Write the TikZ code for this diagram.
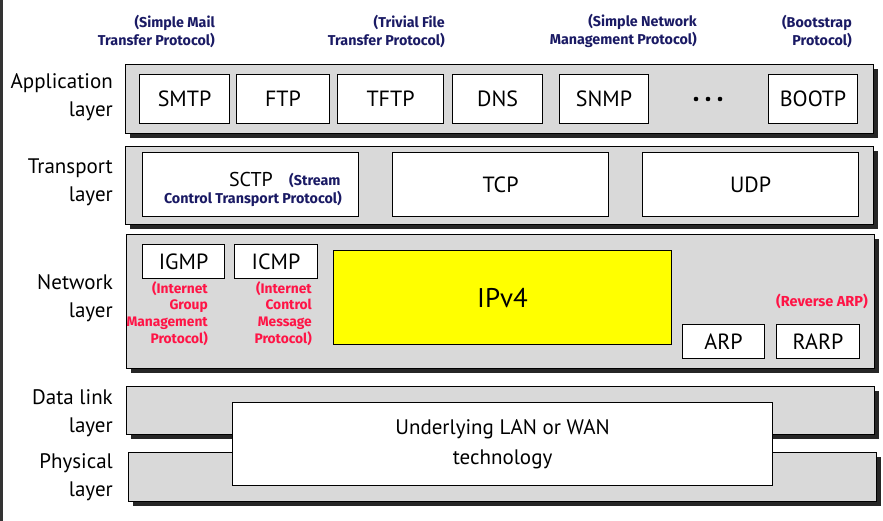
\documentclass[tikz,border=0pt]{standalone}
\usepackage{fontspec}
\setmainfont{PT Sans}
\newfontfamily\notefont{Fira Sans}
\usepackage{tikz}
\usetikzlibrary{positioning, shadows}
\usepackage{xcolor}

\definecolor{layergray}{RGB}{217,217,217}
\definecolor{notenavy}{RGB}{26,26,100}
\definecolor{notered}{RGB}{255,20,70}
\definecolor{ipyellow}{RGB}{255,255,0}

\tikzset{
    layerbox/.style={draw, fill=layergray, line width=1.1pt, anchor=north west, inner sep=0pt,
        drop shadow={shadow xshift=4pt, shadow yshift=-4pt, fill=black!85, opacity=1}},
    protobox/.style={draw, fill=white, line width=1.1pt, anchor=north west, inner sep=0pt,
        font=\fontsize{22}{26}\selectfont},
    layername/.style={anchor=east, align=right, inner sep=0pt, font=\fontsize{21}{28}\selectfont},
    bluenote/.style={text=notenavy, align=right, inner sep=0pt, font=\notefont\bfseries\fontsize{14.3}{18}\selectfont},
    rednote/.style={text=notered, align=right, inner sep=0pt, font=\notefont\bfseries\fontsize{13.8}{16.7}\selectfont},
}

\begin{document}
\begin{tikzpicture}[x=1pt, y=-1pt]
    \useasboundingbox (0,0) rectangle (883,521);
    \fill[black!80] (0,0) rectangle (2.5,521);

    % layers
    \node[layerbox, minimum width=748pt, minimum height=69pt] (app-layer) at (125,64) {};
    \node[layerbox, minimum width=748pt, minimum height=78pt] (trans-layer) at (125,146) {};
    \node[layerbox, minimum width=748pt, minimum height=134pt] (net-layer) at (126,234) {};
    \node[layerbox, minimum width=748pt, minimum height=48pt] (link-layer) at (126,386) {};
    \node[layerbox, minimum width=748pt, minimum height=49pt] (phys-layer) at (128,452) {};

    \node[layername] (app-name) at (113,97.5) {Application\\layer};
    \node[layername] (trans-name) at (113,182) {Transport\\layer};
    \node[layername] (net-name) at (113,298) {Network\\layer};
    \node[layername] (link-name) at (113,413) {Data link\\layer};
    \node[layername] (phys-name) at (113,477.5) {Physical\\layer};

    % application layer
    \node[protobox, minimum width=90pt, minimum height=49pt] (smtp) at (139,74) {SMTP};
    \node[protobox, minimum width=93pt, minimum height=49pt] (ftp) at (236,74) {FTP};
    \node[protobox, minimum width=106pt, minimum height=49pt] (tftp) at (337,74) {TFTP};
    \node[protobox, minimum width=90pt, minimum height=49pt] (dns) at (452,74) {DNS};
    \node[protobox, minimum width=89pt, minimum height=49pt] (snmp) at (559,74) {SNMP};
    \node[protobox, minimum width=89pt, minimum height=49pt] (bootp) at (768,74) {BOOTP};
    \foreach \dx in {-12,0,12}
        \fill (708+\dx,99) circle (2.3pt);

    \node[bluenote, anchor=east] (smtp-note) at (215,31) {(Simple Mail\\Transfer Protocol)};
    \node[bluenote, anchor=east] (tftp-note) at (445,31) {(Trivial File\\Transfer Protocol)};
    \node[bluenote, anchor=east] (snmp-note) at (697,31) {(Simple Network\\Management Protocol)};
    \node[bluenote, anchor=east] (bootp-note) at (852,31) {(Bootstrap\\Protocol)};

    % transport layer
    \node[protobox, minimum width=216pt, minimum height=64pt] (sctp) at (142,152) {};
    \node[protobox, minimum width=216pt, minimum height=64pt] (tcp) at (392,152) {TCP};
    \node[protobox, minimum width=216pt, minimum height=64pt] (udp) at (642,152) {UDP};
    \node[inner sep=0pt, anchor=base east, font=\fontsize{20}{22}\selectfont] (sctp-text) at (273,187) {SCTP};
    \node[bluenote, anchor=base west] (sctp-note1) at (289,186) {(Stream};
    \node[bluenote, anchor=base east] (sctp-note2) at (342,204) {Control Transport Protocol)};

    % network layer
    \node[protobox, minimum width=82pt, minimum height=34pt] (igmp) at (142,244) {IGMP};
    \node[protobox, minimum width=83pt, minimum height=34pt] (icmp) at (234,244) {ICMP};
    \node[protobox, fill=ipyellow, minimum width=338pt, minimum height=94pt,
        font=\fontsize{27}{30}\selectfont] (ipv4) at (333,250) {IPv4};
    \node[protobox, minimum width=82pt, minimum height=34pt] (arp) at (682,324) {ARP};
    \node[protobox, minimum width=83pt, minimum height=34pt] (rarp) at (776,324) {RARP};

    \node[rednote, anchor=north east] (igmp-note) at (208,281) {(Internet\\Group\\Management\\Protocol)};
    \node[rednote, anchor=north east] (icmp-note) at (312,281) {(Internet\\Control\\Message\\Protocol)};
    \node[rednote, anchor=east, font=\notefont\bfseries\fontsize{14.5}{17}\selectfont] (rarp-note) at (868,301) {(Reverse ARP)};

    % data link and physical
    \node[protobox, minimum width=540pt, minimum height=83pt, align=center,
        font=\fontsize{21}{30}\selectfont] (lan-wan) at (232,402) {Underlying LAN or WAN\\technology};
\end{tikzpicture}
\end{document}
